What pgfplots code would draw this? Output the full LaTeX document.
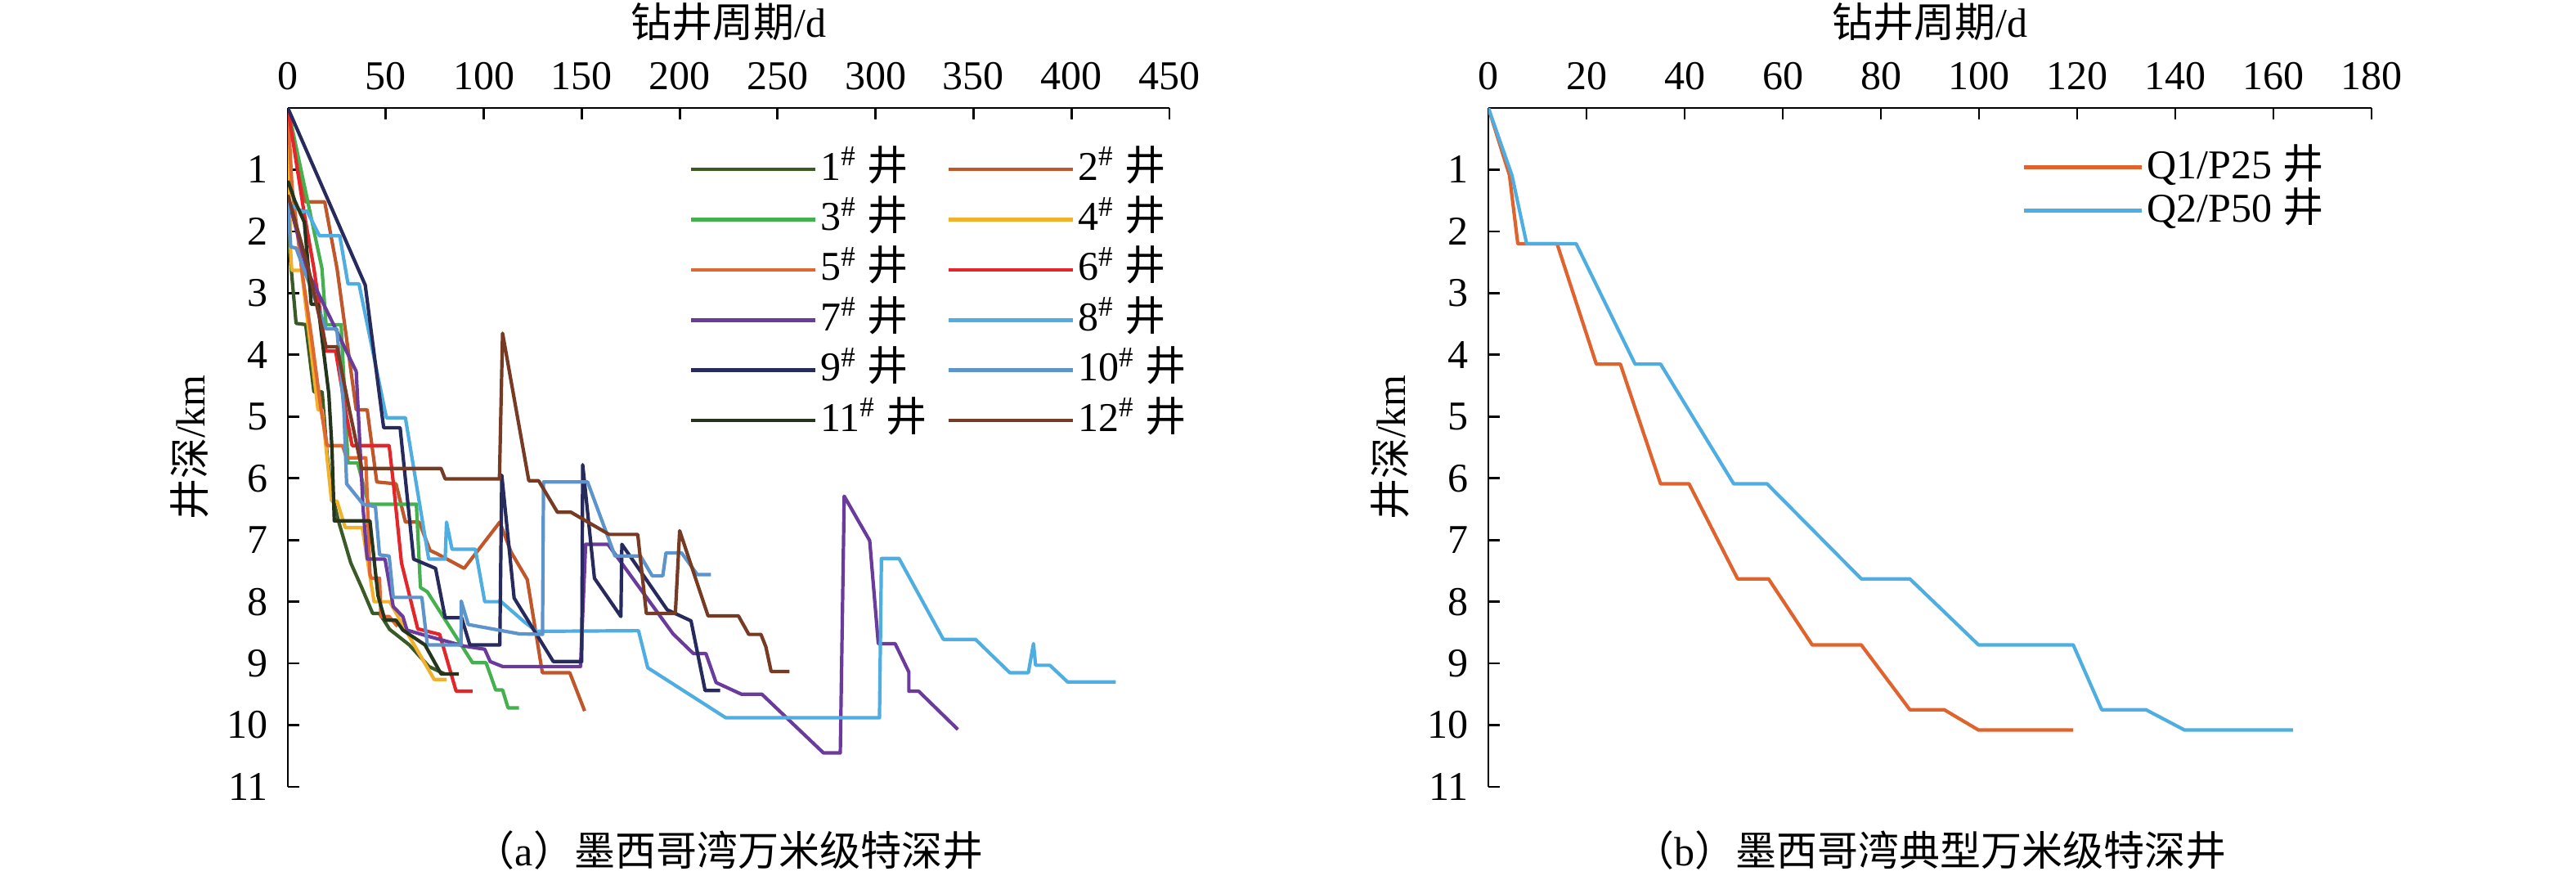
\documentclass[border=0pt]{standalone}
\usepackage{fontspec}
\setmainfont{Liberation Serif}
\newfontfamily\cjk{Noto Sans CJK SC}
\usepackage{pgfplots}
\pgfplotsset{compat=1.18}
\definecolor{wA}{HTML}{3A5A28}
\definecolor{wB}{HTML}{C0572B}
\definecolor{wC}{HTML}{44B04E}
\definecolor{wD}{HTML}{F2B12B}
\definecolor{wE}{HTML}{E2662F}
\definecolor{wF}{HTML}{E4252A}
\definecolor{wG}{HTML}{6A3B9C}
\definecolor{wH}{HTML}{4EAEE2}
\definecolor{wI}{HTML}{262A5C}
\definecolor{wJ}{HTML}{5C94CB}
\definecolor{wK}{HTML}{24351C}
\definecolor{wL}{HTML}{773A22}
\definecolor{qA}{HTML}{E0622C}
\definecolor{qB}{HTML}{4EAEE2}
\pgfplotsset{
 myaxis/.style={
  scale only axis, height=207.5pt,
  y dir=reverse, ymin=0, ymax=11, ytick={1,2,...,11}, xmin=0,
  axis x line=top, axis y line=left,
  axis line style={-, line width=0.7pt, black},
  tick align=inside, major tick length=3.5pt,
  tick style={line width=0.7pt, black},
  font=\fontsize{12.5}{15}\selectfont,
  /pgf/number format/assume math mode=true,
  xticklabel style={anchor=center, yshift=9.75pt},
  yticklabel style={anchor=east, xshift=-2.5pt},
  xlabel={{\cjk 钻井周期}/d}, ylabel={{\cjk 井深}/km},
  xlabel style={at={(axis description cs:0.5,1)}, anchor=center, yshift=26.25pt},
  ylabel style={at={(axis description cs:0,0.5)}, anchor=center, yshift=30pt},
  every axis plot/.append style={line width=1.05pt, line join=round, mark=none},
  legend cell align=left,
  legend image code/.code={\draw[#1, line width=1.15pt] (0pt,0pt) -- (38pt,0pt);},
 }
}
\newcommand{\jing}[1]{#1\textsuperscript{\#}~{\cjk 井}}
\begin{document}
\begin{tikzpicture}
\useasboundingbox (0,0) rectangle (787.5pt,267.75pt);
\begin{axis}[myaxis, name=axA, at={(88pt,27.25pt)}, anchor=south west, width=269.5pt,
  xmax=450, xtick={0,50,...,450},
  legend columns=2,
  legend style={at={(axis description cs:0.4545,0.943)}, anchor=north west, draw=none, fill=none,
    inner sep=0pt, row sep=1.85pt,
    nodes={inner sep=1pt, text height=9pt, text depth=2.5pt, anchor=west},
    /tikz/every even column/.append style={column sep=5pt}}]
\addplot[wA] coordinates {(0,1.5)(0.7,2.25)(4.2,3.49)(9.1,3.51)(13.3,4.6)(17.5,4.6)(20,5.6)(22.3,6.22)(25.8,6.69)(32.1,7.37)(37.7,7.77)(43.3,8.19)(46.8,8.19)(52,8.45)(62,8.7)(72,9.05)(80,9.17)};
\addlegendentry{\jing{1}}
\addplot[wB] coordinates {(0,0)(9.1,1.52)(18.8,1.52)(25.1,2.6)(34.9,4.89)(40.5,4.89)(45.4,6.06)(55.2,6.09)(60,6.71)(67,6.71)(72.6,7.17)(76,7.22)(90,7.46)(108.2,6.71)(114,7.2)(122.2,7.64)(129.9,9.15)(143.9,9.15)(151.5,9.77)};
\addlegendentry{\jing{2}}
\addplot[wC] coordinates {(0,0)(17.4,2.6)(19.5,3.51)(27.2,3.51)(30.7,5.75)(35.6,5.75)(41.2,6.42)(65.6,6.42)(67.7,7.77)(71.2,7.84)(94.3,8.99)(101.2,8.99)(106.1,9.43)(109.6,9.43)(112.4,9.72)(118,9.72)};
\addlegendentry{\jing{3}}
\addplot[wD] coordinates {(0,0)(1.4,2.3)(2,2.63)(7,2.63)(15.4,4.89)(17.5,4.89)(22.3,6.37)(25.1,6.37)(29.3,6.8)(38,6.8)(44,8.0)(52,8.0)(61.4,8.53)(74.7,9.26)(81,9.26)};
\addlegendentry{\jing{4}}
\addplot[wE] coordinates {(0,0)(2.1,1.27)(7,2.6)(12,3.7)(17,4.9)(20,5.47)(27.9,5.47)(30,5.67)(39.8,5.67)(41.9,7.55)(42.6,7.62)(46.8,7.62)(47.5,8.24)(51.7,8.24)(56,8.4)};
\addlegendentry{\jing{5}}
\addplot[wF] coordinates {(0,0)(8.4,1.72)(13.3,2.6)(19.5,3.94)(24.4,3.94)(30,5.0)(32.8,5.47)(51.7,5.47)(53.8,6.06)(58,7.37)(66.3,8.44)(77.5,8.53)(85.9,9.45)(94.3,9.45)};
\addlegendentry{\jing{6}}
\addplot[wG] coordinates {(0,1.45)(9.8,2.63)(24.4,3.58)(34.9,4.27)(38.4,6.49)(40.5,7.31)(49.6,7.31)(53.8,8.08)(58.7,8.24)(60.8,8.46)(70.5,8.55)(90.1,8.72)(100.5,8.77)(103.3,8.97)(109.6,9.05)(149.4,9.05)(152,7.07)(163.4,7.07)(196.6,8.52)(207,8.84)(213.4,8.84)(218.6,9.31)(231.6,9.5)(242,9.5)(273.4,10.45)(282,10.45)(284,6.29)(297,7.01)(301.4,8.68)(310,8.68)(317,9.14)(317,9.45)(322,9.45)(342,10.07)};
\addlegendentry{\jing{7}}
\addplot[wH] coordinates {(0,1.55)(7.7,1.68)(9.8,1.67)(16.1,2.07)(26.5,2.07)(30.7,2.85)(36.3,2.85)(50.3,5.02)(60,5.02)(71.9,7.31)(80.3,7.31)(81,6.71)(83.8,7.15)(95.7,7.15)(100.5,8.0)(108.9,8.0)(120.8,8.33)(127,8.48)(179,8.47)(183.7,9.07)(223.5,9.88)(302,9.88)(303,7.30)(312,7.30)(334.6,8.61)(351,8.61)(368.5,9.15)(378,9.15)(380.6,8.68)(381.7,9.03)(389,9.03)(398,9.30)(422.6,9.30)};
\addlegendentry{\jing{8}}
\addplot[wI] coordinates {(0,0)(39.5,2.87)(48.9,5.18)(57.3,5.18)(64.2,7.31)(75.4,7.46)(80.3,8.26)(88.7,8.26)(92.9,8.7)(108.2,8.7)(109.2,5.95)(115.5,7.94)(135.5,8.97)(150,8.97)(150.5,5.78)(156.5,7.62)(170,8.24)(170.5,7.07)(193.6,8.13)(205.8,8.31)(213,9.44)(220.7,9.44)};
\addlegendentry{\jing{9}}
\addplot[wJ] coordinates {(0,1.52)(1.4,2.25)(4.2,2.27)(19.5,3.58)(25,3.58)(28.6,4.89)(30,6.09)(38.4,6.42)(44.7,6.46)(46.8,7.24)(51.7,7.26)(53.8,7.93)(68.4,7.93)(71.2,8.7)(88.4,8.7)(88.5,7.99)(92.1,8.37)(118,8.52)(130,8.53)(130.5,6.06)(153,6.06)(167,7.26)(180,7.26)(186,7.58)(191.4,7.58)(193,7.21)(201,7.21)(209,7.56)(216,7.56)};
\addlegendentry{\jing{10}}
\addplot[wK] coordinates {(0,1.18)(3.5,1.5)(8.4,1.85)(10.5,2.6)(11.9,3.18)(15.3,3.18)(20.9,4.63)(22.5,5.5)(23.7,6.69)(41.9,6.69)(46,7.9)(49.6,8.3)(55.2,8.3)(58.7,8.46)(70,8.7)(78.2,9.17)(87.3,9.17)};
\addlegendentry{\jing{11}}
\addplot[wL] coordinates {(0,1.41)(10.5,2.6)(19.5,3.87)(25.1,3.87)(31.4,4.89)(37.7,5.84)(78.2,5.84)(80.3,6.01)(108,6.01)(109.6,3.65)(123,6.04)(128,6.04)(137.6,6.55)(144.5,6.55)(164,6.91)(178.6,6.91)(183,8.19)(197.8,8.19)(200,6.85)(214.5,8.23)(230,8.23)(235.3,8.53)(241.5,8.53)(244,8.73)(246.7,9.13)(256,9.13)};
\addlegendentry{\jing{12}}
\end{axis}
\node[font=\fontsize{12.5}{15}\selectfont] at (axA.south) [yshift=-19.5pt] {{\cjk （}a{\cjk ）墨西哥湾万米级特深井}};
\begin{axis}[myaxis, name=axB, at={(455pt,27.25pt)}, anchor=south west, width=270pt,
  xmax=180, xtick={0,20,...,180},
  legend style={at={(axis description cs:0.604,0.943)}, anchor=north west, draw=none, fill=none,
    inner sep=0pt, row sep=1.2pt,
    nodes={inner sep=1pt, text height=8.5pt, text depth=1.6pt, anchor=west}},
  legend image code/.code={\draw[#1, line width=1.15pt] (0pt,0pt) -- (36pt,0pt);}]
\addplot[qA] coordinates {(0,0)(4.3,1.09)(6.0,2.2)(14.0,2.2)(22.0,4.15)(26.9,4.15)(35.1,6.09)(40.9,6.09)(50.8,7.63)(57.1,7.63)(66.0,8.70)(76.0,8.70)(85.9,9.75)(92.9,9.75)(99.9,10.08)(119.2,10.08)};
\addlegendentry{Q1/P25~{\cjk 井}}
\addplot[qB] coordinates {(0,0)(4.8,1.09)(7.8,2.2)(17.9,2.2)(29.9,4.15)(35.1,4.15)(50.0,6.09)(56.8,6.09)(76.0,7.63)(85.9,7.63)(99.9,8.70)(119.2,8.70)(125.0,9.75)(134.0,9.75)(141.9,10.08)(164.0,10.08)};
\addlegendentry{Q2/P50~{\cjk 井}}
\end{axis}
\node[font=\fontsize{12.5}{15}\selectfont] at (axB.south) [yshift=-19.5pt] {{\cjk （}b{\cjk ）墨西哥湾典型万米级特深井}};
\end{tikzpicture}
\end{document}
